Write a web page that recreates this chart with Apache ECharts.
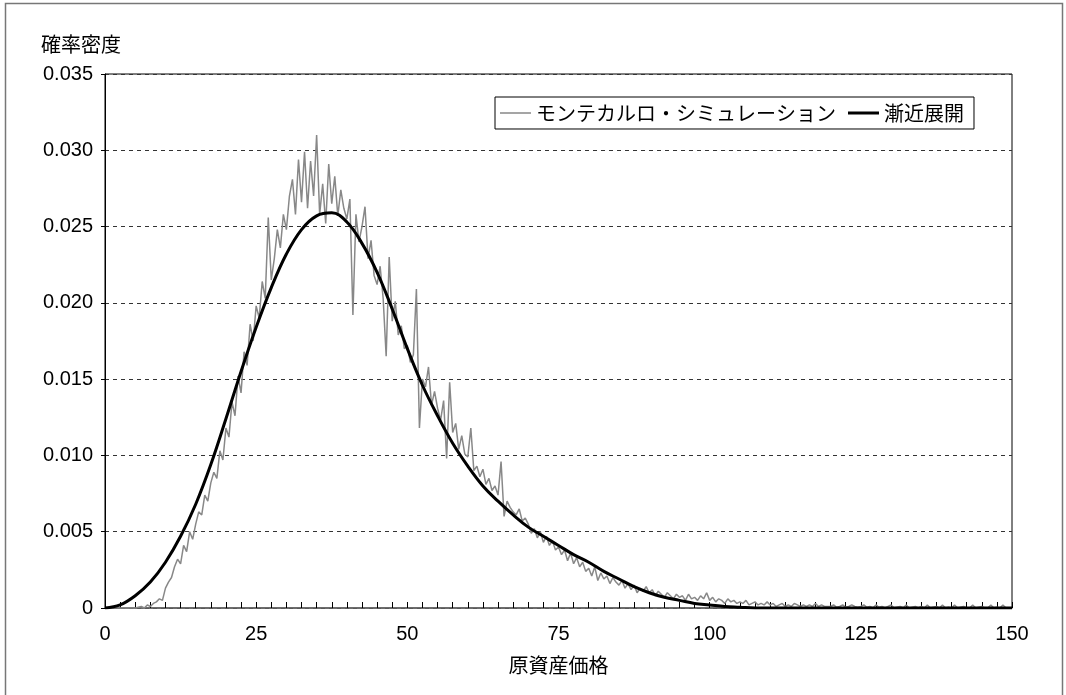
<!DOCTYPE html>
<html>
<head>
<meta charset="utf-8">
<script src="https://cdn.jsdelivr.net/npm/echarts@6/dist/echarts.min.js"></script>
<style>html,body{margin:0;padding:0;background:#fff;}#c{width:1066px;height:695px;}</style>
</head>
<body>
<div id="c"></div>
<script>
// Monte Carlo simulation: x = 0, 0.5, 1.0, ... 150
const mcStep = 0.5;
const mcValues = [
0,0,0,0,0,0,0,0,0,0,
0,0.00005,0.0001,0,0.0002,0.0001,0.0003,0.0004,0.0006,0.0005,
0.0013,0.0017,0.0020,0.0027,0.0032,0.0029,0.0041,0.0037,0.0050,0.0045,
0.0055,0.0063,0.0061,0.0074,0.0070,0.0082,0.0089,0.0085,0.0103,0.0097,
0.0118,0.0112,0.0135,0.0126,0.0152,0.0141,0.0168,0.0159,0.0186,0.0175,
0.0198,0.0190,0.0214,0.0203,0.0256,0.0215,0.0229,0.0248,0.0236,0.0258,
0.0248,0.0270,0.0281,0.0258,0.0294,0.0266,0.0299,0.0262,0.0293,0.0270,
0.0310,0.0258,0.0278,0.0252,0.0291,0.0265,0.0283,0.0257,0.0274,0.0262,
0.0255,0.0268,0.0192,0.0258,0.0240,0.0250,0.0263,0.0229,0.0241,0.0218,
0.0212,0.0224,0.0203,0.0165,0.0230,0.0188,0.0201,0.0179,0.0185,0.0170,
0.0172,0.0161,0.0166,0.0209,0.0118,0.0150,0.0145,0.0158,0.0133,0.0142,
0.0131,0.0123,0.0136,0.0098,0.0148,0.0115,0.0121,0.0104,0.0113,0.0101,
0.0099,0.0118,0.0090,0.0093,0.0086,0.0091,0.0081,0.0085,0.0077,0.0080,
0.0074,0.0096,0.0060,0.0070,0.0066,0.0063,0.0061,0.0065,0.0057,0.0059,
0.0055,0.0049,0.0052,0.0046,0.0050,0.0043,0.0047,0.0041,0.0044,0.0038,
0.0040,0.0035,0.0038,0.0031,0.0036,0.0029,0.0033,0.0027,0.0030,0.0024,
0.0026,0.0021,0.0027,0.0018,0.0023,0.0019,0.0021,0.0016,0.0020,0.0017,
0.0015,0.0018,0.0013,0.0016,0.0012,0.0015,0.0010,0.0013,0.0011,0.0014,
0.0010,0.0012,0.0008,0.0011,0.0009,0.0007,0.0010,0.0008,0.0006,0.0009,
0.0007,0.0008,0.0005,0.0009,0.0006,0.0007,0.0005,0.0008,0.0006,0.0010,
0.0005,0.0007,0.0004,0.0006,0.0005,0.0003,0.0006,0.0004,0.0005,0.0003,
0.0004,0.0003,0.0005,0.0002,0.0003,0.0004,0.0002,0.0003,0.0002,0.0004,
0.0002,0.0003,0.0001,0.0002,0.0003,0.0001,0.0002,0.0001,0.0003,0.0002,
0.0001,0.0002,0.0001,0.0002,0.0001,0.0003,0.0001,0.0002,0.0001,0.0001,
0.0001,0.0002,0.00005,0.0001,0.0002,0.00005,0.0001,0.0002,0.0001,0.00005,
0.0001,0.0002,0.00005,0.0001,0,0.0002,0.00005,0.0001,0,0.0001,
0.0002,0,0.00005,0.0001,0,0.0002,0,0.00005,0.0001,0,
0.0001,0,0.0002,0,0.00005,0.0001,0,0.0002,0,0.00005,
0,0.0002,0,0.00005,0.0001,0,0,0.0002,0,0.00005,
0.0001,0,0,0.0002,0,0.00005,0,0.0002,0,0,
0
];
// Asymptotic expansion: x = 0, 2.5, 5, ... 150
const asyStep = 2.5;
const asyValues = [
0,0.0002,0.0008,0.0017,0.0030,0.0047,0.0068,0.0094,0.0124,0.0155,
0.0184,0.0210,0.0232,0.0248,0.0257,0.0259,0.0253,0.0239,0.0220,0.0196,
0.0170,0.0146,0.0126,0.0108,0.0093,0.0080,0.0070,0.0061,0.0053,0.0047,
0.0041,0.0035,0.0030,0.0024,0.0019,0.0014,0.0010,0.0007,0.0005,0.0003,
0.0002,0.0001,0.00005,0,0,0,0,0,0,0,
0,0,0,0,0,0,0,0,0,0,
0
];
const seriesNames = ['モンテカルロ・シミュレーション', '漸近展開'];
const xTickLabels = [0, 25, 50, 75, 100, 125, 150];
const yTickLabels = ['0', '0.005', '0.010', '0.015', '0.020', '0.025', '0.030', '0.035'];

const FONT = '"Liberation Sans", Arial, "Noto Sans CJK JP", sans-serif';
const CJK = '"Noto Sans CJK JP", "Liberation Sans", sans-serif';
const mcData = mcValues.map((v, i) => [i * mcStep, v]);
const asyData = asyValues.map((v, i) => [i * asyStep, v]);

// legend icons: thin stripe (gray) and thick stripe (black), inside a 32x10 box
const thinIcon = 'path://M0,0L32,0L32,0.05L0,0.05Z M0,4.3L32,4.3L32,5.7L0,5.7Z M0,9.95L32,9.95L32,10L0,10Z';
const thickIcon = 'path://M0,0L32,0L32,0.05L0,0.05Z M0,3.5L32,3.5L32,6.5L0,6.5Z M0,9.95L32,9.95L32,10L0,10Z';

const chart = echarts.init(document.getElementById('c'), null, {renderer: 'canvas'});
chart.setOption({
  animation: false,
  backgroundColor: '#fff',
  textStyle: {fontFamily: FONT},
  graphic: [{
    type: 'rect', silent: true, z: -10,
    shape: {x: 5.5, y: 3.5, width: 1057, height: 720},
    style: {fill: 'none', stroke: '#777', lineWidth: 1.5}
  }],
  grid: {left: 105, right: 54, top: 74, bottom: 87, show: true, borderColor: '#000', borderWidth: 1, backgroundColor: 'transparent'},
  legend: {
    left: 495, top: 97,
    data: [
      {name: seriesNames[0], icon: thinIcon, itemStyle: {color: '#888'}},
      {name: seriesNames[1], icon: thickIcon, itemStyle: {color: '#000'}}
    ],
    itemWidth: 31, itemHeight: 10, itemGap: 12,
    padding: [6, 10, 6, 5],
    borderColor: '#000', borderWidth: 1,
    textStyle: {fontFamily: CJK, fontSize: 20, color: '#000', padding: [0, 0, 0, 0]}
  },
  xAxis: {
    type: 'value', min: 0, max: 150, interval: 25,
    name: '原資産価格', nameLocation: 'middle', nameGap: 47,
    nameTextStyle: {fontFamily: CJK, fontSize: 20, color: '#000'},
    axisLine: {show: true, onZero: false, lineStyle: {color: '#666', width: 1.5}},
    axisTick: {show: true, inside: true, length: 6, lineStyle: {color: '#000'}},
    minorTick: {show: true, splitNumber: 10, length: 6, lineStyle: {color: '#000'}},
    axisLabel: {fontSize: 20, color: '#000', margin: 16, formatter: v => xTickLabels.includes(v) ? String(v) : ''},
    splitLine: {show: false}
  },
  yAxis: {
    type: 'value', min: 0, max: 0.035, interval: 0.005,
    name: '確率密度', nameLocation: 'end', nameGap: 20,
    nameTextStyle: {fontFamily: CJK, fontSize: 20, color: '#000', align: 'left', padding: [0, 0, 0, -64]},
    axisLine: {show: true, lineStyle: {color: '#000', width: 1}},
    axisTick: {show: true, length: 4, lineStyle: {color: '#000'}},
    axisLabel: {fontSize: 20, color: '#000', margin: 12, formatter: (v) => yTickLabels[Math.round(v / 0.005)]},
    splitLine: {show: true, lineStyle: {color: '#333', type: [4, 4], width: 1}}
  },
  series: [
    {
      name: seriesNames[0], type: 'line', data: mcData,
      showSymbol: false, symbol: 'none',
      lineStyle: {color: '#888', width: 1.5},
      itemStyle: {color: '#888'}, z: 2
    },
    {
      name: seriesNames[1], type: 'line', data: asyData,
      showSymbol: false, symbol: 'none', smooth: 0.4,
      lineStyle: {color: '#000', width: 3},
      itemStyle: {color: '#000'}, z: 3
    }
  ]
});
</script>
</body>
</html>
